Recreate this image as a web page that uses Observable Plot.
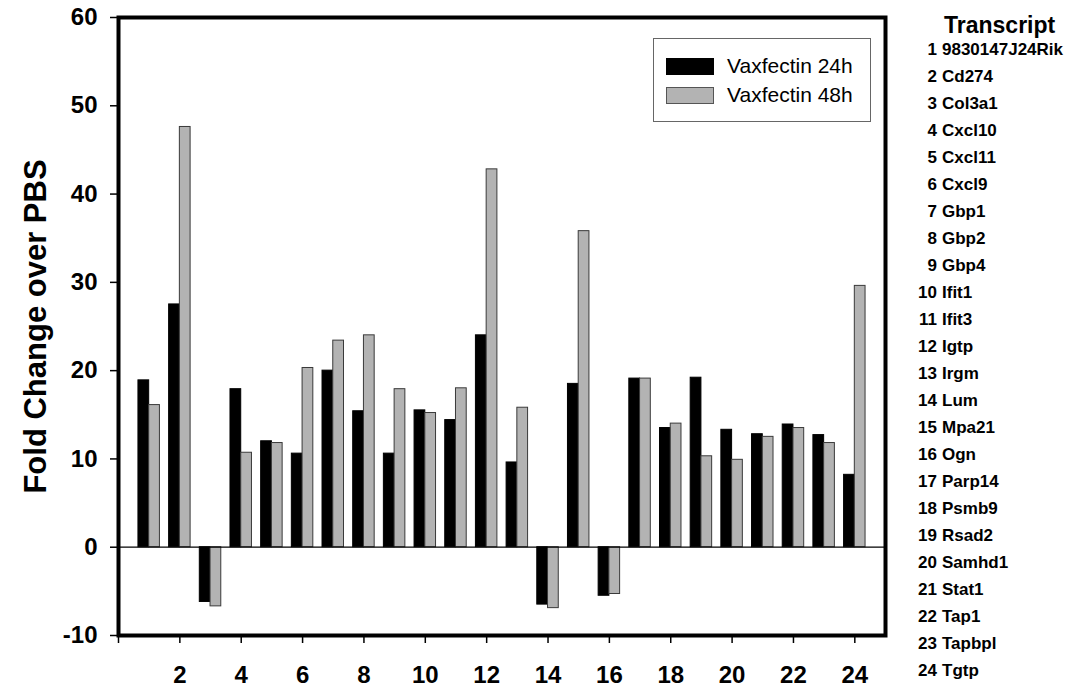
<!DOCTYPE html>
<html>
<head>
<meta charset="utf-8">
<script src="https://cdn.jsdelivr.net/npm/d3@7"></script>
<script src="https://cdn.jsdelivr.net/npm/@observablehq/plot@0.6"></script>
<style>
  body { margin: 0; background: #fff; font-family: "Liberation Sans", Arial, sans-serif; }
  #wrap { position: relative; width: 1077px; height: 688px; overflow: hidden; }
  #legend { position: absolute; left: 653px; top: 38px; width: 218px; height: 84px; border: 1.5px solid #666; background: #fff; box-sizing: border-box; }
  .lg-row { position: absolute; left: 12px; display: flex; align-items: center; font-size: 21px; color: #000; }
  .sw { width: 48px; height: 17px; box-sizing: border-box; margin-right: 13px; }
  #list { position: absolute; left: 900px; top: 0; width: 177px; }
  #list .hdr { position: absolute; left: 44px; top: 12px; font-weight: bold; font-size: 23px; }
  #list .item { position: absolute; left: 0; display: flex; font-size: 17px; font-weight: bold; line-height: 19px; white-space: nowrap; }
  #list .num { width: 37px; text-align: right; margin-right: 5px; }
</style>
</head>
<body>
<div id="wrap"></div>
<script>
const positions = [1,2,3,4,5,6,7,8,9,10,11,12,13,14,15,16,17,18,19,20,21,22,23,24];
const transcripts = ["9830147J24Rik","Cd274","Col3a1","Cxcl10","Cxcl11","Cxcl9","Gbp1","Gbp2","Gbp4","Ifit1","Ifit3","Igtp","Irgm","Lum","Mpa21","Ogn","Parp14","Psmb9","Rsad2","Samhd1","Stat1","Tap1","Tapbpl","Tgtp"];
const vax24 = [18.9,27.5,-6.2,17.9,12.0,10.6,20.0,15.4,10.6,15.5,14.4,24.0,9.6,-6.5,18.5,-5.5,19.1,13.5,19.2,13.3,12.8,13.9,12.7,8.2];
const vax48 = [16.1,47.6,-6.7,10.7,11.8,20.3,23.4,24.0,17.9,15.2,18.0,42.8,15.8,-6.9,35.8,-5.3,19.1,14.0,10.3,9.9,12.5,13.5,11.8,29.6];
const seriesNames = ["Vaxfectin 24h","Vaxfectin 48h"];
const yTicks = [-10,0,10,20,30,40,50,60];
const xTicks = [0,2,4,6,8,10,12,14,16,18,20,22,24];
const yLabel = "Fold Change over PBS";
const listTitle = "Transcript";

const barW = 0.35;
const d24 = positions.map((p,i) => ({x1: p - barW, x2: p, y: vax24[i]}));
const d48 = positions.map((p,i) => ({x1: p, x2: p + barW, y: vax48[i]}));

const chart = Plot.plot({
  width: 1077, height: 688,
  marginLeft: 118, marginRight: 192, marginTop: 17, marginBottom: 53,
  style: {fontFamily: "'Liberation Sans', Arial, sans-serif", background: "#fff", color: "#000"},
  x: {type: "linear", domain: [0, 25]},
  y: {domain: [-10, 60]},
  marks: [
    Plot.rectY(d24, {x1: "x1", x2: "x2", y: "y", fill: "#000", stroke: "#000", strokeWidth: 1}),
    Plot.rectY(d48, {x1: "x1", x2: "x2", y: "y", fill: "#b3b3b3", stroke: "#3a3a3a", strokeWidth: 1}),
    Plot.ruleY([0], {stroke: "#000", strokeWidth: 1.3}),
    Plot.frame({stroke: "#000", strokeWidth: 4}),
    Plot.axisY({ticks: yTicks, tickFormat: d => String(d), tickSize: 8, tickPadding: 13, fontSize: 24, fontWeight: "bold", label: null, strokeWidth: 1.5}),
    Plot.axisX({ticks: xTicks, tickFormat: d => d === 0 ? "" : String(d), tickSize: 8, tickPadding: 22, fontSize: 24, fontWeight: "bold", label: null, strokeWidth: 1.5}),
    Plot.text([yLabel], {frameAnchor: "left", textAnchor: "middle", rotate: -90, dx: -82, fontSize: 31, fontWeight: "bold", fill: "#000"})
  ]
});

const wrap = document.getElementById("wrap");
wrap.appendChild(chart);

// legend
const legend = document.createElement("div");
legend.id = "legend";
const swStyles = [{bg: "#000", border: "1px solid #000"}, {bg: "#b3b3b3", border: "1.5px solid #555"}];
seriesNames.forEach((name, i) => {
  const row = document.createElement("div");
  row.className = "lg-row";
  row.style.top = (15 + i * 29) + "px";
  const sw = document.createElement("div");
  sw.className = "sw";
  sw.style.background = swStyles[i].bg;
  sw.style.border = swStyles[i].border;
  const t = document.createElement("span");
  t.textContent = name;
  row.appendChild(sw); row.appendChild(t);
  legend.appendChild(row);
});
wrap.appendChild(legend);

// transcript list
const list = document.createElement("div");
list.id = "list";
const hdr = document.createElement("div");
hdr.className = "hdr";
hdr.textContent = listTitle;
list.appendChild(hdr);
transcripts.forEach((name, i) => {
  const it = document.createElement("div");
  it.className = "item";
  it.style.top = (40 + i * 27) + "px";
  const n = document.createElement("span");
  n.className = "num";
  n.textContent = positions[i];
  const s = document.createElement("span");
  s.textContent = name;
  it.appendChild(n); it.appendChild(s);
  list.appendChild(it);
});
wrap.appendChild(list);
</script>
</body>
</html>
